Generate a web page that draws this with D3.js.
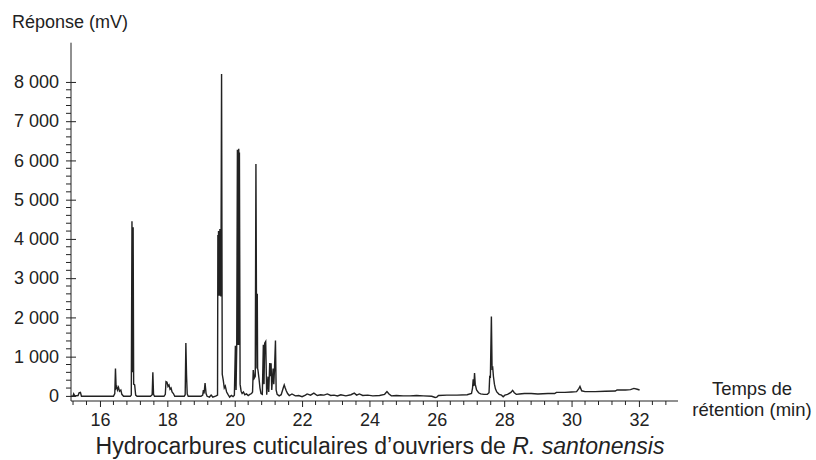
<!DOCTYPE html>
<html>
<head>
<meta charset="utf-8">
<script src="https://cdn.jsdelivr.net/npm/d3@7"></script>
<style>
body { margin: 0; background: #fff; }
svg text { font-family: "Liberation Sans", Arial, sans-serif; fill: #222; }
</style>
</head>
<body>
<script>
/* chromatogram */
var retention = [
	15.14, 15.20, 15.22, 15.25, 15.35, 15.38, 15.42, 15.45, 15.60, 15.90, 16.20, 16.40, 16.44,
	16.46, 16.48, 16.50, 16.52, 16.55, 16.58, 16.62, 16.65, 16.70, 16.90,
	16.93, 16.95, 16.97, 16.985, 17.00, 17.03, 17.06, 17.10,
	17.50, 17.55, 17.57, 17.59, 17.62,
	17.90, 17.94, 17.96, 17.99, 18.02, 18.05, 18.08, 18.11, 18.14, 18.18, 18.22,
	18.50, 18.53, 18.55, 18.57, 18.59, 18.62,
	19.00, 19.05, 19.07, 19.09, 19.12, 19.15, 19.18, 19.25, 19.30, 19.35, 19.45, 19.49,
	19.50, 19.51, 19.52, 19.53, 19.54, 19.55, 19.56, 19.57, 19.58, 19.59,
	19.61, 19.63, 19.66, 19.69, 19.72, 19.76, 19.80, 19.85, 19.90, 19.95, 19.99,
	20.02, 20.04, 20.06, 20.08, 20.10, 20.12, 20.13, 20.14, 20.16, 20.19, 20.22, 20.26, 20.30,
	20.35, 20.40, 20.45, 20.50,
	20.53, 20.55, 20.58, 20.61, 20.63, 20.645, 20.66, 20.67, 20.68, 20.69, 20.72, 20.75, 20.78, 20.82,
	20.85, 20.87, 20.89, 20.92, 20.95, 20.99, 21.01, 21.04, 21.06, 21.08, 21.10, 21.14, 21.16, 21.18,
	21.21, 21.23, 21.26, 21.32, 21.38, 21.44, 21.47, 21.50, 21.53, 21.57, 21.62,
	21.70, 21.80, 21.90, 22.00, 22.10, 22.15, 22.25, 22.35, 22.45, 22.55, 22.65, 22.75, 22.85,
	22.95, 23.05, 23.15, 23.30, 23.45, 23.55, 23.62, 23.70, 23.80, 23.95, 24.10, 24.30, 24.45,
	24.52, 24.58, 24.65, 24.80, 25.00, 25.20, 25.40, 25.60, 25.85, 25.95, 26.00, 26.05, 26.30,
	26.60, 26.90, 27.03,
	27.06, 27.08, 27.10, 27.12, 27.14, 27.18, 27.24, 27.30, 27.40, 27.50,
	27.55, 27.57, 27.59, 27.62, 27.64, 27.66, 27.68, 27.71, 27.74, 27.78, 27.85, 27.92, 27.97,
	28.02, 28.10, 28.20, 28.25, 28.30, 28.36, 28.45, 28.60, 28.80, 29.00, 29.30, 29.50, 29.55,
	29.80, 30.00, 30.15, 30.22, 30.25, 30.30, 30.40, 30.70, 31.00, 31.30, 31.35, 31.60, 31.75,
	31.85, 31.95, 32.02
];
var response = [
	-10, -10, 50, 0, 10, 80, 90, -10, -10, -10, -10, -10, 60,
	700, 200, 230, 150, 220, 120, 150, 40, -10, -10,
	20, 4450, 600, 4300, 300, 280, 20, -10,
	-10, 30, 600, 40, -10,
	-10, 40, 365, 350, 240, 280, 170, 200, 100, 60, -10,
	-10, 30, 1350, 530, 50, -10,
	-10, 20, 150, 60, 330, 60, -10, -30, 20, -30, 0, 20,
	4100, 2550, 4200, 2550, 4200, 2550, 4250, 2550, 4230, 2530,
	8200, 550, 400, 200, 250, 100, 40, -30, 10, -20, 20,
	1280, 150, 1260, 6270, 1300, 6300, 1300, 6200, 300, 120, 60, 100, 30,
	50, 10, 40, 60,
	100, 660, 450, 500, 5910, 2620, 700, 2600, 700, 660, 450, 200, 60, 40,
	1300, 300, 1340, 1385, 30, 490, 100, 840, 500, 830, 150, 700, 300, 650,
	1410, 150, 40, 0, 30, 200, 280, 200, 130, 60, 10,
	50, 0, 10, -20, 20, 50, 20, 70, 10, 30, 20, 50, 10,
	20, 0, 30, 0, 30, 70, 20, 50, 10, 20, 0, 10, 40,
	110, 50, 0, 10, 0, 0, 10, 0, -10, -40, -30, 10, 20,
	20, 30, 60,
	200, 420, 250, 580, 300, 150, 80, 50, 40, 40,
	80, 490, 480, 2020, 700, 720, 500, 300, 180, 100, 40, 20, -20,
	20, 40, 90, 140, 80, 40, 50, 60, 60, 50, 60, 60, 90,
	90, 100, 110, 190, 240, 130, 110, 110, 120, 125, 150, 150, 160,
	190, 170, 150
];

var yTicks = [0, 1000, 2000, 3000, 4000, 5000, 6000, 7000, 8000];
var xTicks = [16, 18, 20, 22, 24, 26, 28, 30, 32];
var yLabel = "Réponse (mV)";
var xLabel = ["Temps de", "rétention (min)"];
var caption = "Hydrocarbures cuticulaires d’ouvriers de ";
var species = "R. santonensis";

var W = 816, H = 460;
var svg = d3.select("body").append("svg")
	.attr("width", W)
	.attr("height", H);

var x = d3.scaleLinear().domain([15.14, 33.16]).range([71, 678]);
var y = d3.scaleLinear().domain([-130, 9000]).range([401, 42.7]);

var fr = d3.formatLocale({decimal: ",", thousands: "\u00a0", grouping: [3], currency: ["", " €"]});
var fmt = fr.format(",d");

/* minor ticks */
var yMinor = [], xMinor = [];
for (var v = 0; v <= 8000; v += 200){
	if (v % 1000 != 0) yMinor.push(v);
}
for (var k = 0; k < 46; k += 1){
	var t = +(15.2 + k*0.4).toFixed(1);
	if (t > 33.1) break;
	if (Math.abs(t - Math.round(t)) > 0.01 || Math.round(t) % 2 != 0) xMinor.push(t);
}

var yAxis = d3.axisLeft(y).tickValues(yTicks).tickSize(5).tickPadding(7).tickFormat(fmt);
var gy = svg.append("g").attr("transform", "translate(71,0)").call(yAxis);
gy.select(".domain").attr("d", "M0," + y(9000) + "V" + y(-130));
gy.selectAll(".tick line").attr("x2", -5).attr("x1", 5);
gy.selectAll("text").attr("font-size", 18).attr("font-family", "Liberation Sans, Arial, sans-serif");
gy.selectAll("line, path").attr("stroke", "#222");

svg.append("g").selectAll("line")
	.data(yMinor).enter()
	.append("line")
	.attr("x1", 66).attr("x2", 71)
	.attr("y1", function(d){ return y(d); })
	.attr("y2", function(d){ return y(d); })
	.attr("stroke", "#222");

var xAxis = d3.axisBottom(x).tickValues(xTicks).tickSize(6).tickPadding(6).tickFormat(d3.format("d"));
var gx = svg.append("g").attr("transform", "translate(0,401)").call(xAxis);
gx.select(".domain").attr("d", "M71,0H678");
gx.selectAll("text").attr("font-size", 18).attr("font-family", "Liberation Sans, Arial, sans-serif");
gx.selectAll("line, path").attr("stroke", "#222");

svg.append("g").selectAll("line")
	.data(xMinor).enter()
	.append("line")
	.attr("x1", function(d){ return x(d); })
	.attr("x2", function(d){ return x(d); })
	.attr("y1", 401).attr("y2", 405)
	.attr("stroke", "#222");

/* trace */
var pts = retention.map(function(t, i){ return [t, response[i]]; });
var line = d3.line()
	.x(function(d){ return x(d[0]); })
	.y(function(d){ return y(d[1]); });
svg.append("path")
	.datum(pts)
	.attr("d", line)
	.attr("fill", "none")
	.attr("stroke", "#222")
	.attr("stroke-width", 1.4)
	.attr("stroke-linejoin", "miter");

/* labels */
svg.append("text")
	.attr("x", 12).attr("y", 27.5)
	.attr("font-size", 18)
	.text(yLabel);

svg.selectAll(".xlab")
	.data(xLabel).enter()
	.append("text")
	.attr("class", "xlab")
	.attr("x", 752)
	.attr("y", function(d, i){ return 395 + i*21; })
	.attr("text-anchor", "middle")
	.attr("font-size", 18.5)
	.text(function(d){ return d; });

var cap = svg.append("text")
	.attr("x", 380).attr("y", 454)
	.attr("text-anchor", "middle")
	.attr("font-size", 23);
cap.append("tspan").text(caption);
cap.append("tspan").attr("font-style", "italic").text(species);
</script>
</body>
</html>
